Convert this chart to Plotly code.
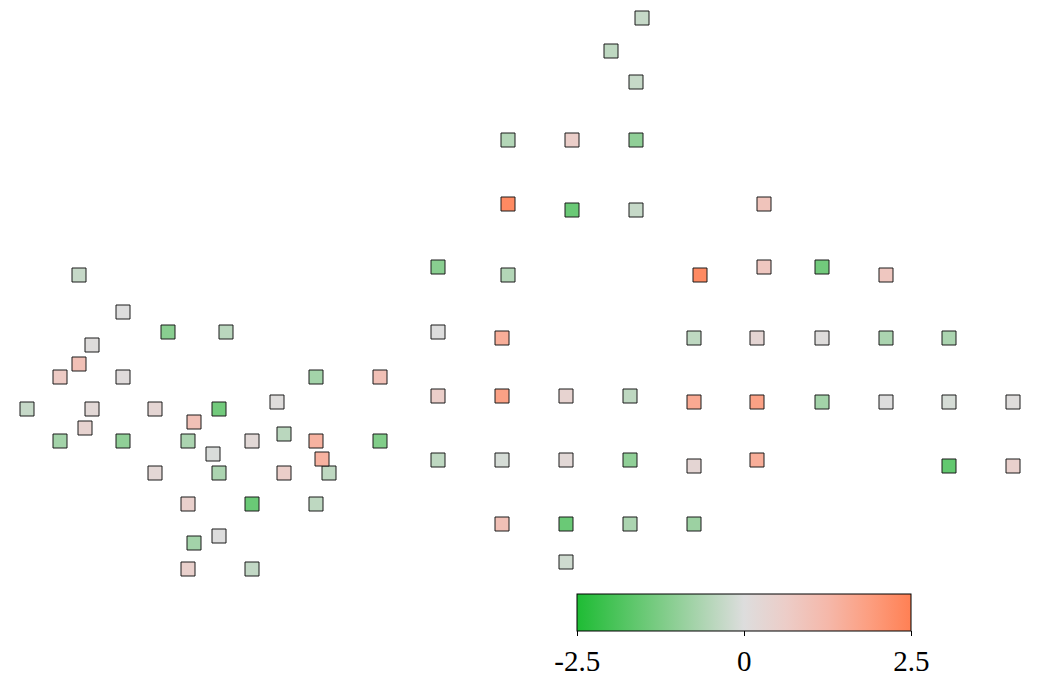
import plotly.graph_objects as go

# Point positions (chart units) and their values
x_vals = [5, 79, 123, 168, 226, 92, 79, 60, 123, 316, 380, 27, 92, 155, 219, 277, 194, 85,
          60, 123, 188, 252, 284, 316, 380, 213, 329, 322, 155, 219, 284, 188, 252, 316,
          219, 194, 188, 252,
          642, 611, 636, 508, 572, 636, 508, 572, 636, 764, 438, 508, 700, 764, 822, 886,
          438, 502, 694, 757, 822, 886, 949,
          438, 502, 566, 630, 694, 757, 822, 886, 949, 1013,
          438, 502, 566, 630, 694, 757, 949, 1013,
          502, 566, 630, 694, 566]
y_vals = [51, 275, 312, 332, 332, 345, 364, 377, 377, 377, 377, 409, 409, 409, 409, 402, 422, 428,
          441, 441, 441, 441, 434, 441, 441, 454, 473, 459, 473, 473, 473, 504, 504, 504,
          536, 543, 569, 569,
          18, 51, 82, 140, 140, 140, 204, 210, 210, 204, 267, 275, 275, 267, 267, 275,
          332, 338, 338, 338, 338, 338, 338,
          396, 396, 396, 396, 402, 402, 402, 402, 402, 402,
          460, 460, 460, 460, 466, 460, 466, 466,
          524, 524, 524, 524, 562]
values = [0.6, -0.3, 0.0, -1.1, -0.45, 0.05, 1.0, 0.7, 0.1, -0.75, 1.0, -0.3, 0.2, 0.3, -1.4, 0.05, 1.0, 0.4,
          -0.75, -1.0, -0.65, 0.2, -0.45, 1.4, -1.2, -0.05, -0.4, 1.4, 0.25, -0.65, 0.6, 0.5, -1.5, -0.4,
          0.0, -0.75, 0.5, -0.35,
          -0.3, -0.4, -0.3, -0.55, 0.6, -1.0, 2.3, -1.5, -0.3, 0.9, -1.1, -0.55, 2.3, 0.8, -1.4, 0.8,
          0.0, 1.5, -0.4, 0.3, 0.05, -0.65, -0.65,
          0.6, 1.8, 0.4, -0.4, 1.6, 1.8, -0.75, 0.0, -0.1, 0.05,
          -0.4, -0.1, 0.2, -1.0, 0.3, 1.5, -1.6, 0.5,
          1.0, -1.5, -0.65, -0.85, -0.2]

tick_vals = [-2.5, 0, 2.5]
tick_text = ["-2.5", "0", "2.5"]

colorscale = [
    [0.0, "rgb(30,188,52)"],
    [0.25, "rgb(125,204,134)"],
    [0.5, "rgb(221,221,221)"],
    [0.625, "rgb(236,205,200)"],
    [0.75, "rgb(245,184,170)"],
    [0.875, "rgb(252,158,128)"],
    [1.0, "rgb(255,128,84)"],
]

# the page body has an 8px default margin; size the figure to fill the rest
OFF = 8
W, H = 1039 - OFF, 677 - OFF

fig = go.Figure()
fig.add_trace(go.Scatter(
    x=x_vals, y=y_vals, mode="markers",
    cliponaxis=False,
    marker=dict(
        symbol="square", size=14,
        color=values, colorscale=colorscale, cmin=-2.5, cmax=2.5,
        line=dict(color="#1a1a1a", width=1),
        showscale=True,
        colorbar=dict(
            orientation="h",
            x=(744.3 - OFF) / W, xanchor="center",
            y=(677 - 594) / H, yanchor="top",
            len=334 / W, lenmode="fraction",
            thickness=37,
            xpad=0, ypad=0,
            outlinecolor="black", outlinewidth=1,
            tickmode="array", tickvals=tick_vals, ticktext=tick_text,
            ticks="outside", ticklen=5, tickwidth=1, tickcolor="black",
            tickfont=dict(family="Liberation Serif", size=29, color="black"),
        ),
    ),
    hoverinfo="skip",
))

fig.update_layout(
    width=W, height=H,
    margin=dict(l=0, r=0, t=0, b=0, autoexpand=False),
    paper_bgcolor="white", plot_bgcolor="white",
    showlegend=False,
    xaxis=dict(range=[OFF, 1039], visible=False),
    yaxis=dict(range=[677, OFF], visible=False),
)

fig.write_html("out.html")
